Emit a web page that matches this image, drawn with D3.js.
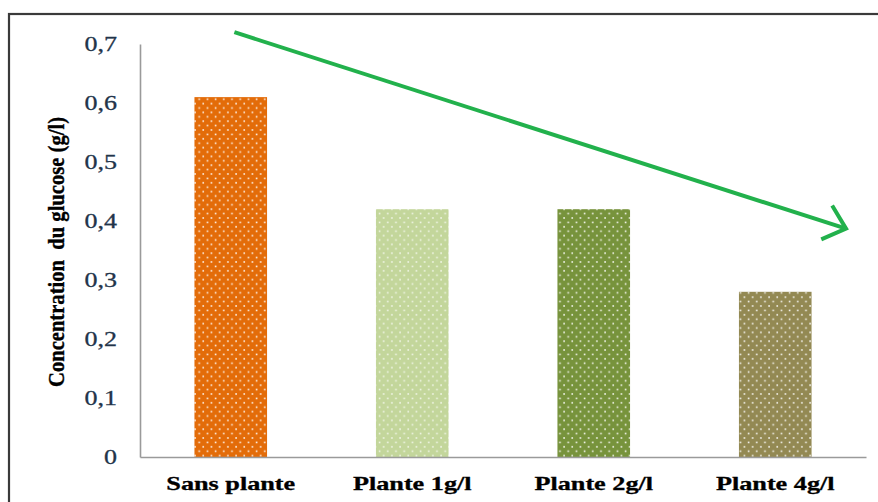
<!DOCTYPE html>
<html>
<head>
<meta charset="utf-8">
<script src="https://cdn.jsdelivr.net/npm/d3@7"></script>
<style>
  html, body { margin: 0; padding: 0; background: #fff; }
  svg { display: block; }
</style>
</head>
<body>
<svg id="chart" width="878" height="502"></svg>
<script>
// Glucose concentration by treatment
const categories = ["Sans plante", "Plante 1g/l", "Plante 2g/l", "Plante 4g/l"];
const glucose = [0.61, 0.42, 0.42, 0.28];
const barColors = ["#e36c09", "#c3d69b", "#77933c", "#938953"];
const yTicks = [0, 0.1, 0.2, 0.3, 0.4, 0.5, 0.6, 0.7];
const yTickLabels = ["0", "0,1", "0,2", "0,3", "0,4", "0,5", "0,6", "0,7"];
// Trend arrow ends, in (category index, value) units
const trendFrom = [0.02, 0.72];
const trendTo = [3.39, 0.387];

const svg = d3.select("#chart");

// Frame around the chart area
svg.append("rect")
  .attr("x", 9).attr("y", 14)
  .attr("width", 900).attr("height", 600)
  .attr("fill", "none")
  .attr("stroke", "#3a3a3a")
  .attr("stroke-width", 2.2);

const plot = { left: 140, right: 866, top: 44, bottom: 457 };

const x = d3.scaleBand()
  .domain(categories)
  .range([plot.left, plot.right])
  .paddingInner(0.6)
  .paddingOuter(0.3);

const y = d3.scaleLinear()
  .domain([0, 0.7])
  .range([plot.bottom, plot.top]);

// Category index -> band centre
const xi = d3.scaleLinear()
  .domain([0, categories.length - 1])
  .range([x(categories[0]) + x.bandwidth() / 2,
          x(categories[categories.length - 1]) + x.bandwidth() / 2]);

// Dotted fill patterns
const defs = svg.append("defs");
barColors.forEach((c, i) => {
  const p = defs.append("pattern")
    .attr("id", "dots" + i)
    .attr("patternUnits", "userSpaceOnUse")
    .attr("width", 8.2).attr("height", 8.8);
  p.append("rect").attr("width", 8.2).attr("height", 8.8).attr("fill", c);
  const op = i === 1 ? 0.75 : 0.9;
  p.append("rect").attr("x", 1.6).attr("y", 1.6).attr("width", 1.6).attr("height", 1.6)
    .attr("fill", "#fff").attr("opacity", op);
  p.append("rect").attr("x", 5.7).attr("y", 6.0).attr("width", 1.6).attr("height", 1.6)
    .attr("fill", "#fff").attr("opacity", op);
});

// Bars
svg.append("g").selectAll("rect")
  .data(categories)
  .join("rect")
  .attr("x", d => x(d))
  .attr("y", (d, i) => y(glucose[i]))
  .attr("width", x.bandwidth())
  .attr("height", (d, i) => y(0) - y(glucose[i]))
  .attr("fill", (d, i) => `url(#dots${i})`);

// Axes lines
const yAxis = d3.axisLeft(y).tickValues([]).tickSize(0);
svg.append("g")
  .attr("transform", `translate(${plot.left},0)`)
  .call(yAxis)
  .call(g => g.select(".domain").attr("stroke", "#9a9a9a").attr("stroke-width", 1.6));

const xAxis = d3.axisBottom(x).tickSize(0).tickFormat("");
svg.append("g")
  .attr("transform", `translate(0,${plot.bottom})`)
  .call(xAxis)
  .call(g => g.select(".domain").attr("stroke", "#9a9a9a").attr("stroke-width", 1.6));

// Y tick labels
svg.append("g").selectAll("text")
  .data(yTicks)
  .join("text")
  .attr("transform", d => `translate(117,${y(d)}) scale(1.3,1)`)
  .attr("text-anchor", "end")
  .attr("dy", "0.36em")
  .attr("font-family", "Liberation Serif, Times New Roman, serif")
  .attr("font-size", 20)
  .attr("fill", "#22344a")
  .attr("stroke", "#22344a")
  .attr("stroke-width", 0.3)
  .text((d, i) => yTickLabels[i]);

// Category labels
svg.append("g").selectAll("text")
  .data(categories)
  .join("text")
  .attr("transform", d => `translate(${x(d) + x.bandwidth() / 2},490) scale(1.38,1)`)
  .attr("text-anchor", "middle")
  .attr("font-family", "Liberation Serif, Times New Roman, serif")
  .attr("font-weight", "bold")
  .attr("font-size", 19)
  .attr("fill", "#000")
  .attr("stroke", "#000")
  .attr("stroke-width", 0.3)
  .text(d => d);

// Y axis title
svg.append("text")
  .attr("transform", "translate(64,252) scale(1.25,1) rotate(-90)")
  .attr("text-anchor", "middle")
  .attr("font-family", "Liberation Serif, Times New Roman, serif")
  .attr("font-weight", "bold")
  .attr("font-size", 19)
  .attr("textLength", 270)
  .attr("lengthAdjust", "spacingAndGlyphs")
  .attr("fill", "#000")
  .attr("stroke", "#000")
  .attr("stroke-width", 0.3)
  .attr("xml:space", "preserve")
  .text("Concentration  du glucose (g/l)");

// Decreasing trend arrow
const green = "#22b14c";
const p0 = [xi(trendFrom[0]), y(trendFrom[1])];
const p1 = [xi(trendTo[0]), y(trendTo[1])];
const ang = Math.atan2(p1[1] - p0[1], p1[0] - p0[0]);
const headLen = 27, headSpread = 0.72;
const arrow = svg.append("g")
  .attr("stroke", green)
  .attr("stroke-width", 4)
  .attr("fill", "none")
  .attr("stroke-linecap", "butt");
arrow.append("line")
  .attr("x1", p0[0]).attr("y1", p0[1])
  .attr("x2", p1[0]).attr("y2", p1[1]);
arrow.append("polyline")
  .attr("stroke-linejoin", "miter")
  .attr("points", [
    [p1[0] - headLen * Math.cos(ang - headSpread), p1[1] - headLen * Math.sin(ang - headSpread)],
    p1,
    [p1[0] - headLen * Math.cos(ang + headSpread), p1[1] - headLen * Math.sin(ang + headSpread)]
  ].map(p => p.join(",")).join(" "));
</script>
</body>
</html>
